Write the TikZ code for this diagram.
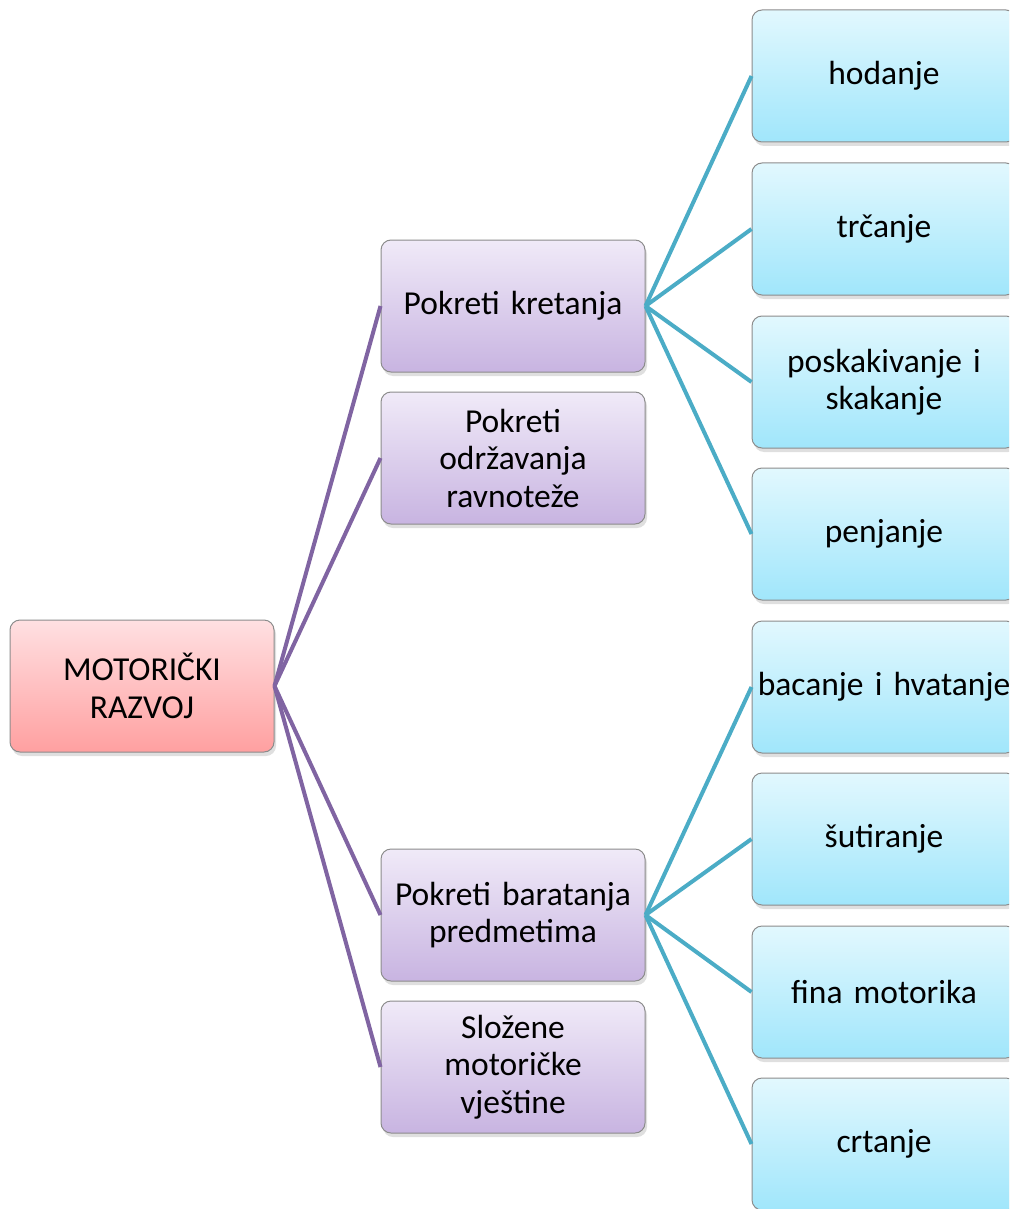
\documentclass[tikz,border=0pt]{standalone}
\usepackage{fontspec}
\setmainfont{Carlito}
\usetikzlibrary{shadows}
\definecolor{purpleline}{HTML}{8064A2}
\definecolor{tealline}{HTML}{4BACC6}
\begin{document}
\begin{tikzpicture}[x=1pt,y=-1pt,
  box/.style={rectangle, rounded corners=10pt, draw=black!45, line width=1pt,
    minimum width=264pt, minimum height=132pt, text width=262pt, align=center,
    font=\fontsize{33.5}{37.5}\selectfont, inner sep=0pt,
    drop shadow={opacity=0.25, shadow xshift=2pt, shadow yshift=-4pt}},
  rootbox/.style={box, top color={rgb,255:red,255;green,224;blue,226}, bottom color={rgb,255:red,255;green,160;blue,160}},
  midbox/.style={box, top color={rgb,255:red,240;green,234;blue,248}, bottom color={rgb,255:red,200;green,180;blue,225}},
  leafbox/.style={box, top color={rgb,255:red,226;green,248;blue,254}, bottom color={rgb,255:red,160;green,230;blue,251}},
  plink/.style={draw=purpleline, line width=4pt},
  tlink/.style={draw=tealline, line width=4pt}]
\useasboundingbox (0,0) rectangle (1009,1209);
\clip (0,0) rectangle (1009,1209);
% nodes
\node[rootbox] (root) at (142,686) {MOTORIČKI\\RAZVOJ};
\node[midbox] (kret) at (513,306) {Pokreti kretanja};
\node[midbox] (odrz) at (513,458) {Pokreti\\održavanja\\ravnoteže};
\node[midbox] (bara) at (513,915) {Pokreti baratanja\\predmetima};
\node[midbox] (sloz) at (513,1067) {Složene\\motoričke\\vještine};
\node[leafbox] (hod) at (884,76) {hodanje};
\node[leafbox] (trc) at (884,229) {trčanje};
\node[leafbox] (posk) at (884,382) {poskakivanje i\\skakanje};
\node[leafbox] (penj) at (884,534) {penjanje};
\node[leafbox] (bac) at (884,687) {bacanje i hvatanje};
\node[leafbox] (sut) at (884,839) {šutiranje};
\node[leafbox] (fina) at (884,992) {fina motorika};
\node[leafbox] (crt) at (884,1144) {crtanje};
% connectors
\draw[plink] (root.east) -- (kret.west);
\draw[plink] (root.east) -- (odrz.west);
\draw[plink] (root.east) -- (bara.west);
\draw[plink] (root.east) -- (sloz.west);
\draw[tlink] (kret.east) -- (hod.west);
\draw[tlink] (kret.east) -- (trc.west);
\draw[tlink] (kret.east) -- (posk.west);
\draw[tlink] (kret.east) -- (penj.west);
\draw[tlink] (bara.east) -- (bac.west);
\draw[tlink] (bara.east) -- (sut.west);
\draw[tlink] (bara.east) -- (fina.west);
\draw[tlink] (bara.east) -- (crt.west);
\end{tikzpicture}
\end{document}
